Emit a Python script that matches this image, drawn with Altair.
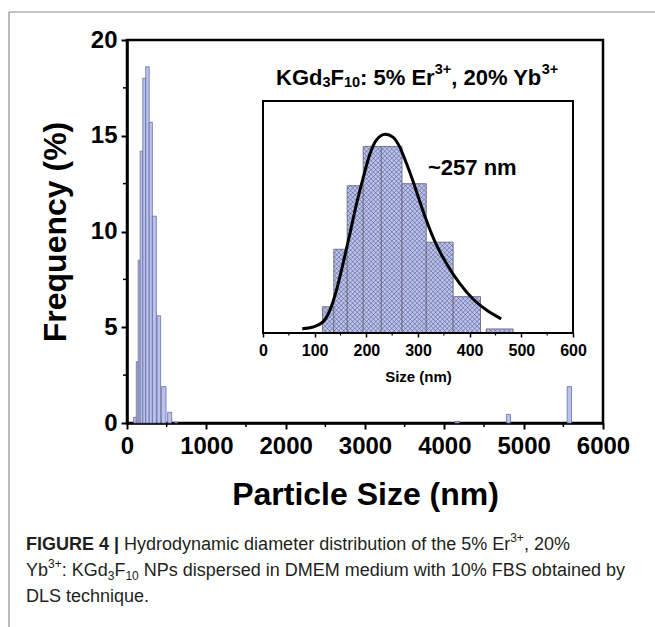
import altair as alt
import pandas as pd
import numpy as np

# ---------------- data ----------------
# main DLS histogram (nm, %)
main_start = [83, 117, 141, 166, 199, 236, 280, 320, 378, 434, 512, 598, 4131, 4783, 5548]
main_end = [117, 141, 166, 199, 236, 280, 320, 370, 424, 492, 563, 638, 4190, 4834, 5603]
main_freq = [0.3, 3.2, 8.5, 14.2, 18.0, 18.6, 15.7, 10.8, 5.6, 1.9, 0.56, 0.05, 0.08, 0.45, 1.9]

# inset histogram
inset_start = [115, 137, 163, 194, 229, 269, 316, 368, 432]
inset_end = [137, 163, 194, 229, 269, 316, 368, 421, 484]
inset_freq = [2.6, 8.3, 14.6, 18.5, 18.5, 14.8, 9.0, 3.6, 0.4]

# fitted curve in the inset
curve_x = [76, 97, 116, 129, 142, 155, 168, 181, 194, 206, 219, 237, 252, 265, 277, 290,
           303, 316, 335, 355, 381, 406, 432, 461]
curve_y = [0.43, 0.6, 1.1, 2.2, 4.2, 6.9, 9.8, 12.8, 15.4, 17.6, 19.1, 19.7, 19.4, 18.4,
           16.9, 15.1, 13.1, 11.2, 8.8, 6.9, 4.9, 3.4, 2.3, 1.4]

x_major = [0, 1000, 2000, 3000, 4000, 5000, 6000]
x_minor = [500, 1500, 2500, 3500, 4500, 5500]
y_major = [0, 5, 10, 15, 20]
y_minor = [2.5, 7.5, 12.5, 17.5]
inset_major = [0, 100, 200, 300, 400, 500, 600]
inset_minor = [50, 150, 250, 350, 450, 550]

# text pieces: (text, kind)  kind: n = normal, b = bold, sub, sup
title_parts = [("KGd", "n"), ("3", "sub"), ("F", "n"), ("10", "sub"), (": 5% Er", "n"),
               ("3+", "sup"), (", 20% Yb", "n"), ("3+", "sup")]
peak_label = "~257 nm"
caption_1 = [("FIGURE 4 |", "b"), (" Hydrodynamic diameter distribution of the 5% Er", "n"),
             ("3+", "sup"), (", 20%", "n")]
caption_2 = [("Yb", "n"), ("3+", "sup"), (": KGd", "n"), ("3", "sub"), ("F", "n"), ("10", "sub"),
             (" NPs dispersed in DMEM medium with 10% FBS obtained by", "n")]
caption_3 = [("DLS technique.", "n")]

# ---------------- layout ----------------
W, H = 476, 383
PADL, PADT = 127, 40
FONT = "Liberation Sans"
BAR_FILL = "#b9c2f4"
BAR_STROKE = "#5d6285"

one = pd.DataFrame({"a": [0]})

# Arial / Liberation Sans advance widths (1/1000 em)
REG = dict(zip("abcdefghijklmnopqrstuvwxyz",
               [556, 556, 500, 556, 556, 278, 556, 556, 222, 222, 500, 222, 833, 556, 556, 556,
                556, 333, 500, 278, 556, 500, 722, 500, 500, 500]))
REG.update(dict(zip("ABCDEFGHIJKLMNOPQRSTUVWXYZ",
                    [667, 667, 722, 722, 667, 611, 778, 722, 278, 500, 667, 556, 833, 722, 778,
                     667, 778, 722, 667, 611, 722, 667, 944, 667, 667, 611])))
REG.update({" ": 278, "%": 889, ",": 278, ".": 278, ":": 278, "+": 584, "~": 584, "|": 260})
for dch in "0123456789":
    REG[dch] = 556
BOLD = dict(REG)
BOLD.update(dict(zip("abcdefghijklmnopqrstuvwxyz",
                     [556, 611, 556, 611, 556, 333, 611, 611, 278, 278, 556, 278, 889, 611, 611,
                      611, 611, 389, 556, 333, 611, 556, 778, 556, 556, 500])))
BOLD.update(dict(zip("ABCDEFGHIJKLMNOPQRSTUVWXYZ",
                     [722, 722, 722, 722, 667, 611, 778, 722, 278, 556, 722, 611, 833, 722, 778,
                      667, 778, 722, 667, 611, 722, 667, 944, 667, 667, 611])))
BOLD.update({":": 333, "|": 280})


def compose(parts, x0, y, size, sub_size, bold_all, color, sub_dy, sup_dy):
    layers = []
    xpos = x0
    for txt, kind in parts:
        is_bold = bold_all or kind == "b"
        sz = size if kind in ("n", "b") else sub_size
        dy = 0 if kind in ("n", "b") else (sub_dy if kind == "sub" else sup_dy)
        table = BOLD if is_bold else REG
        lead = len(txt) - len(txt.lstrip(" "))
        xpos += lead * table[" "] * sz / 1000.0
        body = txt.lstrip(" ")
        layers.append(
            alt.Chart(one).mark_text(font=FONT, fontSize=sz,
                                     fontWeight="bold" if is_bold else "normal",
                                     align="left", baseline="middle", color=color, dy=dy).encode(
                x=alt.value(xpos), y=alt.value(y), text=alt.value(body)))
        xpos += sum(table.get(ch, 556) for ch in body) * sz / 1000.0
    return layers


# ---------------- main plot ----------------
xs_main = alt.Scale(domain=[0, 6000], nice=False, zero=False)
ys_main = alt.Scale(domain=[0, 20], nice=False)

main_df = pd.DataFrame({"start": main_start, "end": main_end, "freq": main_freq})

bars = alt.Chart(main_df).mark_rect(fill=BAR_FILL, stroke=BAR_STROKE, strokeWidth=0.7).encode(
    x=alt.X("start:Q", scale=xs_main,
            axis=alt.Axis(values=x_major, format="d", title="Particle Size (nm)", grid=False,
                          labelFont=FONT, labelFontWeight="bold", labelFontSize=24,
                          labelColor="black", labelPadding=5,
                          titleFont=FONT, titleFontWeight="bold", titleFontSize=32,
                          titleColor="black", titlePadding=21,
                          tickSize=6, tickWidth=2, tickColor="black",
                          domainWidth=2.5, domainColor="black", labelFlush=False)),
    x2="end:Q",
    y=alt.Y("freq:Q", scale=ys_main,
            axis=alt.Axis(values=y_major, title="Frequency (%)", grid=False,
                          labelFont=FONT, labelFontWeight="bold", labelFontSize=24,
                          labelColor="black", labelPadding=4,
                          titleFont=FONT, titleFontWeight="bold", titleFontSize=32,
                          titleColor="black", titlePadding=18,
                          tickSize=6, tickWidth=2, tickColor="black",
                          domainWidth=2.5, domainColor="black", labelFlush=False)),
    y2=alt.datum(0),
)

xminor = alt.Chart(pd.DataFrame({"v": x_minor})).mark_rule(color="black", strokeWidth=1.5).encode(
    x=alt.X("v:Q", scale=xs_main), y=alt.value(H), y2=alt.value(H + 4))
yminor = alt.Chart(pd.DataFrame({"v": y_minor})).mark_rule(color="black", strokeWidth=1.5).encode(
    y=alt.Y("v:Q", scale=ys_main), x=alt.value(0), x2=alt.value(-4))

# figure border lines (grey, top and left)
border_top = alt.Chart(one).mark_rule(color="#8a8a8a", strokeWidth=1.2).encode(
    x=alt.value(9 - PADL), x2=alt.value(655 - PADL), y=alt.value(12 - PADT))
border_left = alt.Chart(one).mark_rule(color="#8a8a8a", strokeWidth=1.2).encode(
    x=alt.value(9 - PADL), y=alt.value(12 - PADT), y2=alt.value(627 - PADT))

CAP_COLOR = "#231f20"
cap_layers = []
cap_layers += compose(caption_1, 26 - PADL, 545 - PADT, 18, 12, False, CAP_COLOR, 5, -7)
cap_layers += compose(caption_2, 26 - PADL, 571 - PADT, 18, 12, False, CAP_COLOR, 5, -7)
cap_layers += compose(caption_3, 26 - PADL, 597 - PADT, 18, 12, False, CAP_COLOR, 5, -7)

main_layer = alt.layer(bars, xminor, yminor, border_top, border_left, *cap_layers)

# ---------------- inset ----------------
IX0, IX1, IY0, IY1 = 263 - PADL, 573 - PADL, 333 - PADT, 101 - PADT
YMAX = 23
xs_in = alt.Scale(domain=[0, 600], range=[IX0, IX1], nice=False, zero=False)
ys_in = alt.Scale(domain=[0, YMAX], range=[IY0, IY1], nice=False)

inset_df = pd.DataFrame({"start": inset_start, "end": inset_end, "freq": inset_freq})

ibars = alt.Chart(inset_df).mark_rect(fill=BAR_FILL, stroke="#7a7a8a", strokeWidth=1).encode(
    x=alt.X("start:Q", scale=xs_in,
            axis=alt.Axis(values=inset_major, orient="bottom", offset=-(H - IY0),
                          title="Size (nm)", grid=False, domain=False,
                          labelFont=FONT, labelFontWeight="bold", labelFontSize=16,
                          labelColor="black", labelPadding=5,
                          titleFont=FONT, titleFontWeight="bold", titleFontSize=15,
                          titleColor="black", titlePadding=11,
                          tickSize=4, tickWidth=1.5, tickColor="black", labelFlush=False)),
    x2="end:Q",
    y=alt.Y("freq:Q", scale=ys_in, axis=None),
    y2=alt.datum(0),
)

# cross hatching of the inset bars (45 degree lines in pixel space)
kx = (IX1 - IX0) / 600.0
ky = (IY0 - IY1) / YMAX
sp = 4.6
segs = []
for x0, x1, h in zip(inset_start, inset_end, inset_freq):
    X0, X1, Hp = x0 * kx, x1 * kx, h * ky
    for c in np.arange(np.floor(-X1 / sp) * sp, Hp - X0 + sp, sp):
        lo, hi = max(X0, -c), min(X1, Hp - c)
        if hi > lo:
            segs.append((lo / kx, (lo + c) / ky, hi / kx, (hi + c) / ky))
    for c in np.arange(np.floor(X0 / sp) * sp, X1 + Hp + sp, sp):
        lo, hi = max(X0, c - Hp), min(X1, c)
        if hi > lo:
            segs.append((lo / kx, (c - lo) / ky, hi / kx, (c - hi) / ky))
hatch_df = pd.DataFrame(segs, columns=["xa", "ya", "xb", "yb"])
hatch = alt.Chart(hatch_df).mark_rule(color="#4a4a5a", strokeWidth=0.5).encode(
    x=alt.X("xa:Q", scale=xs_in), x2="xb:Q",
    y=alt.Y("ya:Q", scale=ys_in), y2="yb:Q")

curve = alt.Chart(pd.DataFrame({"x": curve_x, "y": curve_y})).mark_line(
    color="black", strokeWidth=3, interpolate="monotone").encode(
    x=alt.X("x:Q", scale=xs_in), y=alt.Y("y:Q", scale=ys_in))

frame = alt.Chart(one).mark_rect(fill=None, stroke="black", strokeWidth=2).encode(
    x=alt.datum(0, scale=xs_in), x2=alt.datum(600),
    y=alt.datum(0, scale=ys_in), y2=alt.datum(YMAX))

iminor = alt.Chart(pd.DataFrame({"v": inset_minor})).mark_rule(color="black", strokeWidth=1.2).encode(
    x=alt.X("v:Q", scale=xs_in), y=alt.value(IY0), y2=alt.value(IY0 + 2.5))

peak_text = alt.Chart(one).mark_text(font=FONT, fontSize=22, fontWeight="bold", align="left",
                                     baseline="middle", color="black").encode(
    x=alt.value(428 - PADL), y=alt.value(168 - PADT), text=alt.value(peak_label))

title_layers = compose(title_parts, 276.0 - PADL, 78 - PADT, 22, 14.5, True, "black", 5, -8)

inset_layer = alt.layer(ibars, hatch, curve, frame, iminor, peak_text, *title_layers)

chart = alt.layer(main_layer, inset_layer).resolve_scale(
    x="independent", y="independent"
).properties(
    width=W, height=H,
    padding={"left": PADL, "top": PADT, "right": 655 - PADL - W, "bottom": 627 - PADT - H},
    autosize=alt.AutoSizeParams(type="none"),
    background="white",
).configure_view(stroke="black", strokeWidth=2.5)

chart.save("out.html", embed_options={"renderer": "svg", "actions": False})
